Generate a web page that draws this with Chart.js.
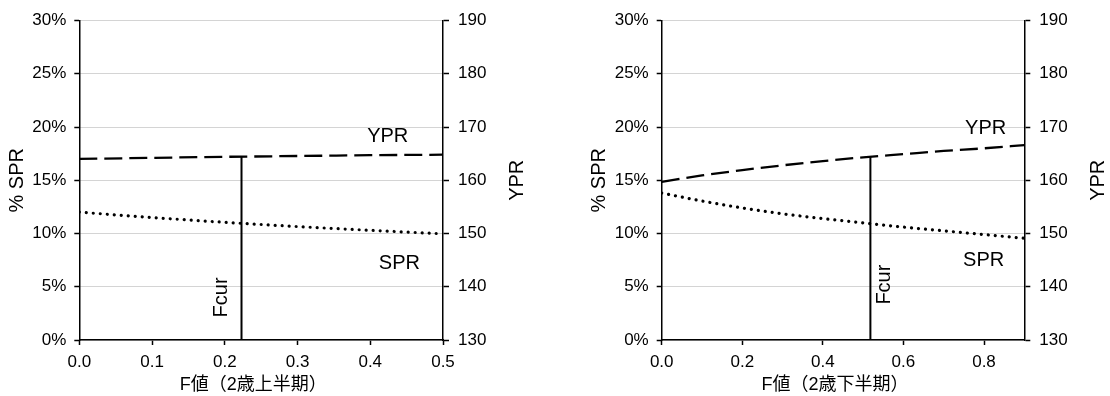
<!DOCTYPE html>
<html>
<head>
<meta charset="utf-8">
<script src="https://cdn.jsdelivr.net/npm/chart.js@4/dist/chart.umd.min.js"></script>
<style>
  html, body { margin: 0; padding: 0; background: #fff; }
  #wrap { position: relative; width: 1110px; height: 396px; }
  canvas { position: absolute; top: 0; }
</style>
</head>
<body>
<div id="wrap">
  <canvas id="first" width="555" height="396" style="left:0"></canvas>
  <canvas id="second" width="555" height="396" style="left:555px"></canvas>
</div>
<script>
// age 2, first half of the year
const fFirst = [0, 0.1, 0.2, 0.3, 0.4, 0.5];
const sprFirst = [12.0, 11.5, 11.05, 10.65, 10.3, 9.97];
const yprFirst = [164.0, 164.2, 164.4, 164.55, 164.7, 164.8];
const fcurFirst = 0.223;
const yprAtFcurFirst = 164.43;

// age 2, second half of the year
const fSecond = [0, 0.1, 0.2, 0.3, 0.4, 0.5, 0.6, 0.7, 0.8, 0.9];
const sprSecond = [13.8, 13.05, 12.4, 11.85, 11.4, 11.0, 10.6, 10.25, 9.9, 9.55];
const yprSecond = [159.7, 160.9, 161.9, 162.8, 163.6, 164.3, 164.9, 165.5, 166.0, 166.6];
const fcurSecond = 0.518;
const yprAtFcurSecond = 164.4;

const FONT = '"Liberation Sans Narrow", "Liberation Sans", "Noto Sans CJK JP", sans-serif';

// text notes placed in data space (F, %SPR)
const notesFirst = [
  { text: 'YPR', f: 0.424, v: 19.1 },
  { text: 'SPR', f: 0.44, v: 7.2 },
  { text: 'Fcur', f: 0.196, v: 4.0, rotate: true }
];
const notesSecond = [
  { text: 'YPR', f: 0.804, v: 19.9 },
  { text: 'SPR', f: 0.799, v: 7.5 },
  { text: 'Fcur', f: 0.554, v: 5.2, rotate: true }
];

const notesPlugin = {
  id: 'notes',
  afterDatasetsDraw(chart, args, opts) {
    const { ctx, scales } = chart;
    ctx.save();
    ctx.fillStyle = '#000';
    ctx.font = '20px ' + FONT;
    ctx.textAlign = 'center';
    ctx.textBaseline = 'middle';
    opts.items.forEach(n => {
      const x = scales.x.getPixelForValue(n.f);
      const y = scales.y.getPixelForValue(n.v);
      ctx.save();
      ctx.translate(x, y);
      if (n.rotate) ctx.rotate(-Math.PI / 2);
      ctx.fillText(n.text, 0, 0);
      ctx.restore();
    });
    ctx.restore();
  }
};

// axis titles (right one reads bottom to top as well)
const titlesPlugin = {
  id: 'titles',
  afterDraw(chart, args, opts) {
    const { ctx, chartArea: a } = chart;
    const midY = (a.top + a.bottom) / 2;
    ctx.save();
    ctx.fillStyle = '#000';
    ctx.textAlign = 'center';
    ctx.textBaseline = 'middle';
    ctx.font = '20px ' + FONT;
    [[a.left - 62, '% SPR'], [a.right + 74, 'YPR']].forEach(([x, t]) => {
      ctx.save();
      ctx.translate(x, midY);
      ctx.rotate(-Math.PI / 2);
      ctx.fillText(t, 0, 0);
      ctx.restore();
    });
    ctx.font = '18px ' + FONT;
    ctx.fillText(opts.xTitle, (a.left + a.right) / 2 - 8, a.bottom + 45);
    ctx.restore();
  }
};

function makeChart(id, f, spr, ypr, fcur, yprAtFcur, fMax, fStep, leftW, rightW, xTitle, notes) {
  const pts = (xs, ys) => xs.map((x, i) => ({ x: x, y: ys[i] }));
  const tickFont = { size: 17, family: FONT };
  return new Chart(document.getElementById(id), {
    type: 'line',
    data: {
      datasets: [
        {
          label: 'SPR',
          data: pts(f, spr),
          yAxisID: 'y',
          borderColor: '#000',
          borderWidth: 3.2,
          borderDash: [0.01, 7],
          borderCapStyle: 'round',
          cubicInterpolationMode: 'monotone',
          pointRadius: 0
        },
        {
          label: 'YPR',
          data: pts(f, ypr),
          yAxisID: 'y2',
          borderColor: '#000',
          borderWidth: 2.3,
          borderDash: [18, 7],
          cubicInterpolationMode: 'monotone',
          pointRadius: 0
        },
        {
          label: 'Fcur',
          data: [{ x: fcur, y: 130 }, { x: fcur, y: yprAtFcur }],
          yAxisID: 'y2',
          borderColor: '#000',
          borderWidth: 2,
          pointRadius: 0
        }
      ]
    },
    options: {
      responsive: false,
      animation: false,
      layout: { padding: { top: 20.5, left: 0, right: 0, bottom: 0 } },
      plugins: {
        legend: { display: false },
        tooltip: { enabled: false },
        notes: { items: notes },
        titles: { xTitle: xTitle }
      },
      scales: {
        x: {
          type: 'linear',
          min: 0,
          max: fMax,
          afterFit: s => { s.height = 56; },
          ticks: {
            stepSize: fStep,
            includeBounds: false,
            color: '#000',
            font: tickFont,
            padding: 7,
            maxRotation: 0,
            callback: v => v.toFixed(1)
          },
          grid: { drawOnChartArea: false, tickLength: 5, tickColor: '#000', tickWidth: 1.5 },
          border: { color: '#000', width: 1.5 }
        },
        y: {
          position: 'left',
          min: 0,
          max: 30,
          afterFit: s => { s.width = leftW; },
          ticks: {
            stepSize: 5,
            color: '#000',
            font: tickFont,
            padding: 8,
            callback: v => v + '%'
          },
          grid: { color: '#a8a8a8', lineWidth: 1, tickLength: 5, tickColor: '#000', tickWidth: 1.5 },
          border: { color: '#000', width: 1.5, dash: [1, 1] }
        },
        y2: {
          position: 'right',
          min: 130,
          max: 190,
          afterFit: s => { s.width = rightW; },
          ticks: {
            stepSize: 10,
            color: '#000',
            font: tickFont,
            padding: 9
          },
          grid: { drawOnChartArea: false, tickLength: 6, tickColor: '#000', tickWidth: 1.5 },
          border: { color: '#000', width: 1.5 }
        }
      }
    },
    plugins: [notesPlugin, titlesPlugin]
  });
}

makeChart('first', fFirst, sprFirst, yprFirst, fcurFirst, yprAtFcurFirst, 0.5, 0.1,
  79.3, 112, 'F値（2歳上半期）', notesFirst);
makeChart('second', fSecond, sprSecond, yprSecond, fcurSecond, yprAtFcurSecond, 0.9, 0.2,
  106.7, 85.7, 'F値（2歳下半期）', notesSecond);
</script>
</body>
</html>
